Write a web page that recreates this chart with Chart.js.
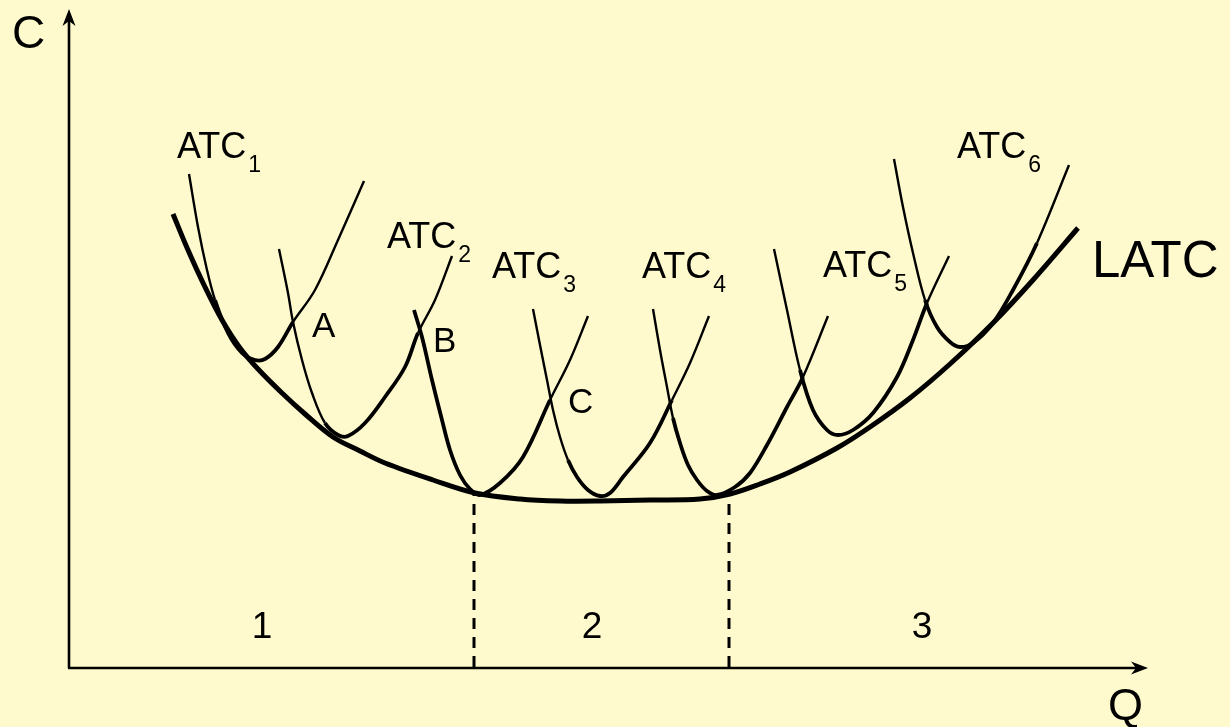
<!DOCTYPE html>
<html>
<head>
<meta charset="utf-8">
<script src="https://cdn.jsdelivr.net/npm/chart.js@4"></script>
<style>
  html, body { margin: 0; padding: 0; background: #FFFACD; overflow: hidden; }
  canvas { display: block; }
</style>
</head>
<body>
<canvas id="chart" width="1230" height="727"></canvas>
<script>
// long-run curve, [Q, C]
const latc = [[104,453],[119,417],[136,380],[153,347],[171,319],[189,298],[213,274],[236,253],[264,230],[291,216],[316,204],[364,187],[406,174],[451,168],[491,166],[531,166],[581,167],[631,168],[661,173],[691,183],[721,195],[768,219],[801,240],[841,269],[881,303],[924,344],[964,387],[1009,439]];

// short-run ATC curves, [Q, C]
const atc1 = [[120,493],[129,440],[138,397],[146,367],[159,334],[173,314],[186,307],[196,308],[209,320],[224,345],[246,377],[269,427],[295,486]];
const atc2 = [[210,418],[219,374],[224,345],[233,307],[243,274],[256,244],[269,232],[279,231],[296,244],[316,270],[336,300],[349,334],[366,367],[383,411]];
const atc3 = [[345,357],[353,330],[363,287],[373,247],[381,217],[391,192],[401,178],[411,172],[431,184],[454,210],[481,267],[501,307],[519,351]];
const atc4 = [[464,358],[471,322],[478,287],[484,257],[491,230],[499,207],[508,190],[519,177],[531,171],[541,174],[554,190],[581,224],[603,267],[621,304],[640,351]];
const atc4b = [[584,358],[591,317],[598,280],[604,249],[611,224],[619,202],[628,187],[638,176],[648,172],[666,180],[681,194],[698,222],[718,260],[734,290],[759,351]];
const atc5 = [[705,418],[718,357],[731,297],[744,257],[758,237],[769,232],[784,237],[804,254],[828,290],[844,327],[858,364],[880,411]];
const atc6 = [[825,508],[834,460],[844,414],[856,367],[868,340],[881,325],[891,320],[904,324],[924,344],[944,377],[968,424],[1000,502]];

const shortRun = [atc1, atc2, atc3, atc4, atc4b, atc5, atc6];
// segment ranges lying on the scalloped short-run envelope
const envelopeSegs = [[3,8],[5,10],[0,9],[5,11],[3,12],[2,9],[3,9]];

// stage boundaries
const boundaryQ = [405, 660];
const boundaryC = [173, 172];

// text
const curveNames = ['ATC','ATC','ATC','ATC','ATC','ATC'];
const curveSubs = ['1','2','3','4','5','6'];
const pointNames = ['A','B','C'];
const stageNames = ['1','2','3'];

const FONT = '"Liberation Sans", Arial, sans-serif';
const toPts = arr => arr.map(([x, y]) => ({ x, y }));

const datasets = [];
shortRun.forEach((curve, i) => {
  const [a, b] = envelopeSegs[i];
  datasets.push({
    data: toPts(curve),
    showLine: true,
    pointRadius: 0,
    borderColor: '#000',
    borderWidth: 2.4,
    tension: 0.35,
    borderCapStyle: 'butt',
    segment: { borderWidth: ctx => (ctx.p0DataIndex >= a && ctx.p0DataIndex <= b) ? 3.8 : 2.4 }
  });
});
datasets.push({
  data: toPts(latc),
  showLine: true,
  pointRadius: 0,
  borderColor: '#000',
  borderWidth: 5,
  tension: 0.35
});
boundaryQ.forEach((q, i) => {
  datasets.push({
    data: [{ x: q, y: 0 }, { x: q, y: boundaryC[i] }],
    showLine: true,
    pointRadius: 0,
    borderColor: '#000',
    borderWidth: 3,
    borderDash: [11, 8]
  });
});

// axes, arrowheads and all text
const decorations = {
  id: 'decorations',
  afterDatasetsDraw(chart) {
    const { ctx, scales: { x, y } } = chart;
    const px = v => x.getPixelForValue(v);
    const py = v => y.getPixelForValue(v);
    ctx.save();
    ctx.strokeStyle = '#000';
    ctx.fillStyle = '#000';
    ctx.lineWidth = 2.6;

    // axes
    const ox = px(0), oy = py(-1);
    const yTip = py(658), xTip = px(1079);
    ctx.beginPath();
    ctx.moveTo(ox, oy); ctx.lineTo(ox, yTip + 8);
    ctx.moveTo(ox - 1, oy); ctx.lineTo(xTip - 8, oy);
    ctx.stroke();
    // arrowheads
    ctx.beginPath();
    ctx.moveTo(ox, yTip); ctx.lineTo(ox - 6.5, yTip + 17); ctx.lineTo(ox, yTip + 12); ctx.lineTo(ox + 6.5, yTip + 17); ctx.closePath();
    ctx.moveTo(xTip, oy); ctx.lineTo(xTip - 17, oy - 6.5); ctx.lineTo(xTip - 12, oy); ctx.lineTo(xTip - 17, oy + 6.5); ctx.closePath();
    ctx.fill();

    ctx.textBaseline = 'alphabetic';
    const text = (s, q, c, size, align) => {
      ctx.font = size + 'px ' + FONT;
      ctx.textAlign = align || 'left';
      ctx.fillText(s, px(q), py(c));
    };

    // axis titles
    text('C', -57, 619, 46);
    text('Q', 1039, -53, 45);
    text('LATC', 1023, 390, 51);

    // curve labels with subscripts
    const labelAt = [[108,509],[318,419],[423,389],[573,389],[754,390],[888,509]];
    curveNames.forEach((name, i) => {
      const [q, c] = labelAt[i];
      ctx.font = '36px ' + FONT;
      ctx.textAlign = 'left';
      const w = ctx.measureText(name).width;
      ctx.fillText(name, px(q), py(c));
      ctx.font = '23px ' + FONT;
      ctx.fillText(curveSubs[i], px(q) + w + 2, py(c) + 14);
    });

    // intersection points
    const pointAt = [[243,330],[364,315],[499,254]];
    pointNames.forEach((s, i) => text(s, pointAt[i][0], pointAt[i][1], 35));

    // stages
    const stageAt = [[193,29],[523,29],[853,29]];
    stageNames.forEach((s, i) => text(s, stageAt[i][0], stageAt[i][1], 37, 'center'));

    ctx.restore();
  }
};

new Chart(document.getElementById('chart'), {
  type: 'scatter',
  data: { datasets },
  options: {
    responsive: false,
    animation: false,
    devicePixelRatio: 1,
    layout: { padding: 0 },
    plugins: { legend: { display: false }, tooltip: { enabled: false } },
    scales: {
      x: { type: 'linear', min: -69, max: 1161, display: false },
      y: { type: 'linear', min: -60, max: 667, display: false }
    }
  },
  plugins: [decorations]
});
</script>
</body>
</html>
